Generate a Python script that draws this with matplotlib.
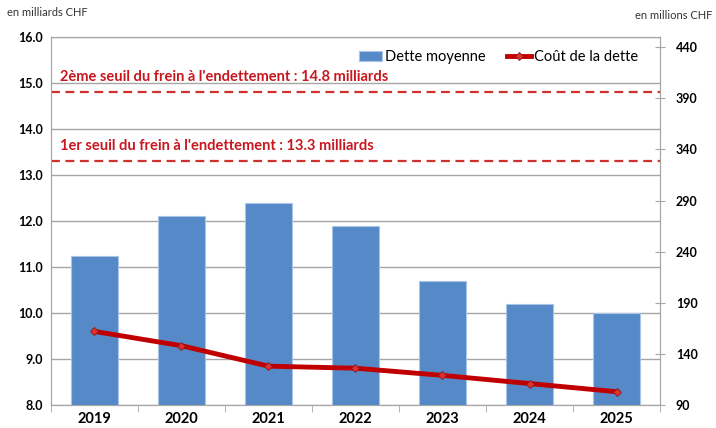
import numpy as np
import matplotlib
matplotlib.use('Agg')
import matplotlib.pyplot as plt

plt.rcParams['font.family'] = ['Lato', 'DejaVu Sans']

years = ['2019', '2020', '2021', '2022', '2023', '2024', '2025']
dette = [11.25, 12.1, 12.4, 11.9, 10.7, 10.2, 10.0]          # milliards CHF
cout = [162, 148, 128, 126, 119, 111, 103]                     # millions CHF
seuil1 = 13.3
seuil2 = 14.8

fig = plt.figure(figsize=(7.16, 4.28), dpi=100)
ax = fig.add_axes([0.0712, 0.0537, 0.8506, 0.8599])
x = np.arange(len(years))

ax.bar(x, dette, width=0.55, color='#5689C8', edgecolor='#A9C4E6', linewidth=0.8,
       label='Dette moyenne', zorder=3)
ax.set_ylim(8, 16)
ax.set_xlim(-0.5, len(years) - 0.5)
ax.set_yticks(np.arange(8, 16.1, 1))
ax.set_yticklabels([f'{v:.1f}' for v in np.arange(8, 16.1, 1)], fontsize=9, fontweight='bold')
ax.yaxis.grid(True, color='#A6A6A6', linewidth=1)
ax.set_axisbelow(True)
ax.tick_params(axis='y', length=0, pad=6)

ax.set_xticks(x)
ax.set_xticklabels(years, fontsize=10.5, fontweight='bold')
ax.tick_params(axis='x', length=0, pad=5)
ax.set_xticks(np.arange(-0.5, len(years), 1), minor=True)
ax.tick_params(axis='x', which='minor', length=5, color='#A6A6A6', direction='out')

for s in ax.spines.values():
    s.set_color('#A6A6A6')

ax.axhline(seuil2, color='#D0312D', linestyle=(0, (4, 2.5)), linewidth=1.6, zorder=4)
ax.axhline(seuil1, color='#D0312D', linestyle=(0, (4, 2.5)), linewidth=1.6, zorder=4)
ax.text(-0.4, seuil2 + 0.17, f"2ème seuil du frein à l'endettement : {seuil2} milliards",
        color='#C8171E', fontsize=10.5, fontweight='bold', va='bottom')
ax.text(-0.4, seuil1 + 0.17, f"1er seuil du frein à l'endettement : {seuil1} milliards",
        color='#C8171E', fontsize=10.5, fontweight='bold', va='bottom')

ax2 = ax.twinx()
ax2.plot(x, cout, color='#C00000', linewidth=3.5, marker='D', markersize=4,
         markerfacecolor='#E03030', markeredgecolor='#8B1A1A', markeredgewidth=0.6,
         label='Coût de la dette', zorder=5)
ax2.set_ylim(90, 450)
ax2.set_yticks(np.arange(90, 441, 50))
ax2.set_yticklabels([str(v) for v in np.arange(90, 441, 50)], fontsize=9, fontweight='bold')
ax2.tick_params(axis='y', direction='inout', length=7, color='#A6A6A6', pad=8)
for s in ax2.spines.values():
    s.set_color('#A6A6A6')

h1, l1 = ax.get_legend_handles_labels()
h2, l2 = ax2.get_legend_handles_labels()
ax2.legend(h1 + h2, l1 + l2, loc='upper right', ncol=2, frameon=False, fontsize=10.5,
           handlelength=1.6, handletextpad=0.2, columnspacing=1.5,
           bbox_to_anchor=(0.985, 1.0))

fig.text(0.01, 0.962, 'en milliards CHF', fontsize=8, color='#333333')
fig.text(0.995, 0.955, 'en millions CHF', fontsize=8, color='#333333', ha='right')

fig.savefig('out.png', dpi=100)
